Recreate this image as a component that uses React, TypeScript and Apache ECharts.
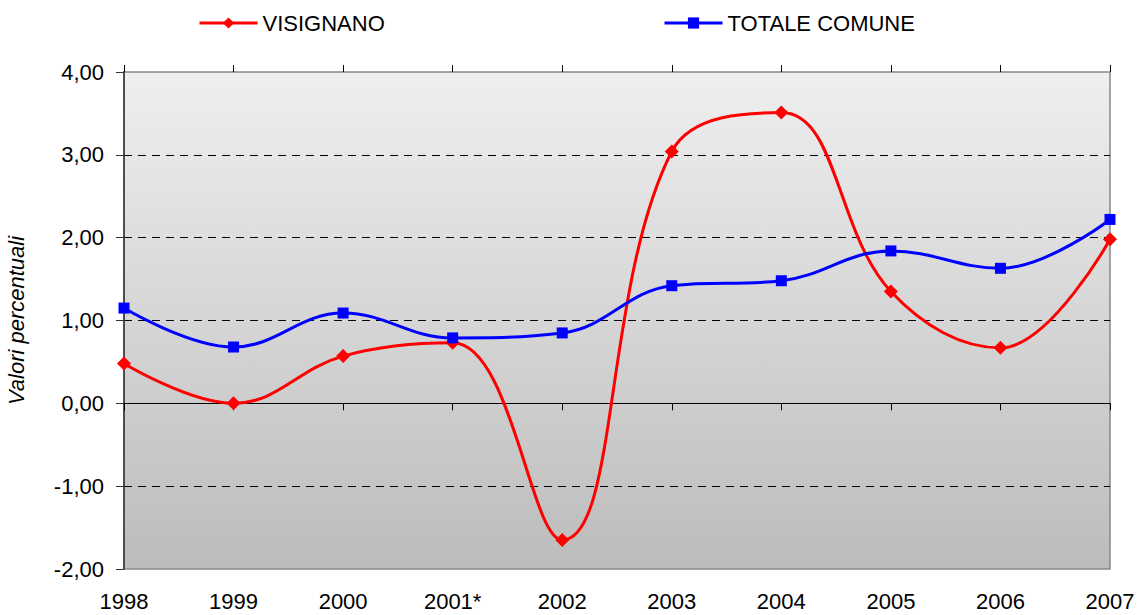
import React, { useEffect, useRef } from "react";
import * as echarts from "echarts";

const categories = ["1998", "1999", "2000", "2001*", "2002", "2003", "2004", "2005", "2006", "2007"];
const visignano = [0.48, 0.0, 0.57, 0.73, -1.65, 3.04, 3.51, 1.35, 0.67, 1.98];
const totaleComune = [1.15, 0.68, 1.09, 0.79, 0.85, 1.42, 1.48, 1.84, 1.63, 2.22];
const seriesNames = ["VISIGNANO", "TOTALE COMUNE"];
const yAxisName = "Valori percentuali";

const FONT = "'Liberation Sans', Arial, sans-serif";

export default function App() {
  const ref = useRef<HTMLDivElement>(null);
  useEffect(() => {
    if (!ref.current) return;
    const chart = echarts.init(ref.current, undefined, { renderer: "svg" });
    const fmt = (v: number) => v.toFixed(2).replace(".", ",");
    const legendBase = {
      top: 7,
      itemWidth: 58,
      itemHeight: 14,
      itemGap: 6,
      lineStyle: { width: 3 },
      textStyle: { fontSize: 22, color: "#000", fontFamily: FONT },
    };
    chart.setOption({
      animation: false,
      textStyle: { fontFamily: FONT },
      legend: [
        { ...legendBase, data: [seriesNames[0]], left: 193 },
        { ...legendBase, data: [seriesNames[1]], left: 658 },
      ],
      grid: {
        left: 124,
        right: 36,
        top: 72,
        bottom: 46,
        outerBoundsMode: "none",
        containLabel: false,
        show: true,
        borderColor: "#888",
        borderWidth: 1.5,
        backgroundColor: new echarts.graphic.LinearGradient(0, 0, 0, 1, [
          { offset: 0, color: "#efefef" },
          { offset: 1, color: "#bcbcbc" },
        ]),
      },
      xAxis: [
        {
          type: "category",
          data: categories,
          boundaryGap: false,
          position: "bottom",
          axisLine: { show: true, onZero: true, lineStyle: { color: "#000", width: 1 } },
          axisTick: { show: true, length: 7, lineStyle: { color: "#000" } },
          axisLabel: {
            fontSize: 22,
            color: "#000",
            fontFamily: FONT,
            margin: 21,
            interval: 0,
          },
          splitLine: { show: false },
        },
        {
          type: "category",
          data: categories,
          boundaryGap: false,
          position: "top",
          axisLine: { show: false, onZero: true },
          axisTick: { show: true, length: 7, lineStyle: { color: "#000" } },
          axisLabel: { show: false },
          splitLine: { show: false },
        },
      ],
      yAxis: {
        type: "value",
        min: -2,
        max: 4,
        interval: 1,
        name: yAxisName,
        nameLocation: "middle",
        nameRotate: 90,
        nameGap: 97,
        nameTextStyle: { fontSize: 22, fontStyle: "italic", color: "#000", fontFamily: FONT },
        axisLine: { show: true, lineStyle: { color: "#333", width: 1.5 } },
        axisTick: { show: true, length: 8, lineStyle: { color: "#333" } },
        axisLabel: {
          fontSize: 22,
          color: "#000",
          fontFamily: FONT,
          margin: 20,
          formatter: fmt,
        },
        splitLine: {
          show: true,
          showMinLine: false,
          showMaxLine: false,
          lineStyle: { color: "#000", type: [8, 6], width: 1 },
        },
      },
      series: [
        {
          name: seriesNames[0],
          type: "line",
          data: visignano,
          smooth: 0.4,
          symbol: "diamond",
          symbolSize: 14,
          lineStyle: { color: "#ff0000", width: 3 },
          itemStyle: { color: "#ff0000" },
          z: 3,
        },
        {
          name: seriesNames[1],
          type: "line",
          data: totaleComune,
          smooth: 0.4,
          symbol: "rect",
          symbolSize: 11,
          lineStyle: { color: "#0000ff", width: 3 },
          itemStyle: { color: "#0000ff" },
          z: 4,
        },
      ],
    });
    return () => chart.dispose();
  }, []);
  return (
    <div
      ref={ref}
      style={{ position: "fixed", left: 0, top: 0, width: 1146, height: 615, background: "#fff" }}
    />
  );
}
